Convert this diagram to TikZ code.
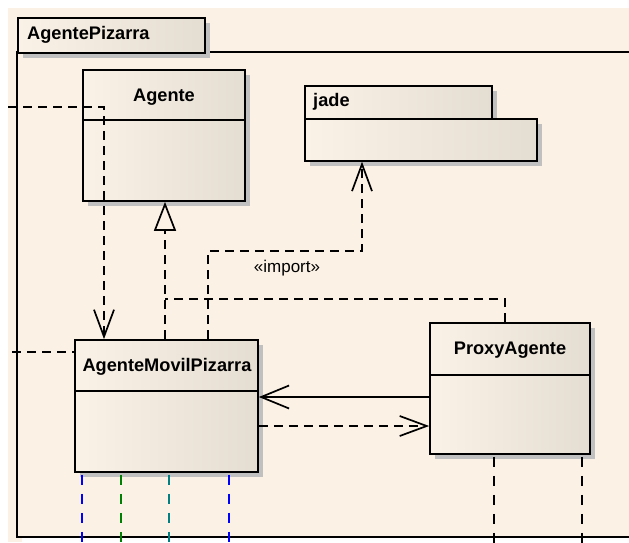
\documentclass[tikz,border=0pt]{standalone}
\usepackage{fontspec}
\setmainfont{Liberation Sans}
\usetikzlibrary{arrows.meta,calc}
\definecolor{paper}{RGB}{251,241,228}
\definecolor{boxleft}{RGB}{251,242,231}
\definecolor{boxright}{RGB}{228,221,209}
\definecolor{shade}{RGB}{192,192,192}
\definecolor{lifeblue}{RGB}{0,0,255}
\definecolor{lifegreen}{RGB}{0,128,0}
\definecolor{lifeteal}{RGB}{0,128,128}
\tikzset{
  umlline/.style={line width=1.7pt, black},
  dsh/.style={umlline, dash pattern=on 9pt off 6pt},
  dep/.style={dsh, -{Straight Barb[length=27pt,width=20pt,line width=1.7pt]}},
  assoc/.style={umlline, -{Straight Barb[length=28pt,width=23pt,line width=1.7pt]}},
  realize/.style={dsh, -{Triangle[open,length=29pt,width=22pt,line width=1.7pt,fill=paper]}},
  lifeline/.style={line width=1.7pt, dash pattern=on 10pt off 9pt},
  classbox/.style={draw=black, line width=1.7pt, rectangle, inner sep=0pt,
    left color=boxleft, right color=boxright,
    preaction={fill=shade, transform canvas={xshift=5pt,yshift=-5pt}}},
  classname/.style={font=\fontsize{18.2}{21}\selectfont\bfseries, inner sep=0pt},
  stereo/.style={font=\fontsize{17}{20}\selectfont, inner sep=0pt},
}
\begin{document}
\begin{tikzpicture}[x=1pt,y=-1pt]
  % canvas
  \useasboundingbox (0,0) rectangle (629,542);
  \fill[white] (0,0) rectangle (629,542);
  \fill[paper] (8,8) rectangle (629,542);

  % package frame: body and tab, each with its shadow
  \fill[shade] (22,57) rectangle (640,542);
  \fill[paper] (17,52) rectangle (635,537);
  \draw[umlline] (629,52) -- (17,52) -- (17,537) -- (629,537);
  \node[classbox, minimum width=187pt, minimum height=35pt, anchor=north west]
    (pkgtab) at (17,17) {};
  \node[classname, anchor=west] (pkgname) at (27,34.5) {AgentePizarra};

  % class Agente
  \node[classbox, minimum width=162pt, minimum height=131pt] (agente) at (164,135.5) {};
  \draw[umlline] (agente.west |- 0,120) -- (agente.east |- 0,120);
  \node[classname] (agentename) at (164,97) {Agente};

  % package jade
  \node[classbox, minimum width=187pt, minimum height=33pt, anchor=north west]
    (jadetab) at (304,85) {};
  \node[classbox, minimum width=232pt, minimum height=42pt, anchor=north west]
    (jadebody) at (304,118) {};
  \node[classname, anchor=west] (jadename) at (313,102) {jade};

  % class AgenteMovilPizarra
  \node[classbox, minimum width=183pt, minimum height=132pt] (amp) at (166.5,406) {};
  \draw[umlline] (amp.west |- 0,391) -- (amp.east |- 0,391);
  \node[classname] (ampname) at (167,367) {AgenteMovilPizarra};

  % class ProxyAgente
  \node[classbox, minimum width=160pt, minimum height=131pt] (proxy) at (510,388.5) {};
  \draw[umlline] (proxy.west |- 0,375) -- (proxy.east |- 0,375);
  \node[classname] (proxyname) at (510,350) {ProxyAgente};

  % free ends and bends
  \coordinate (leftin1) at (8,107);
  \coordinate (leftin2) at (12,352);
  \coordinate (impbend) at (362,251);
  \coordinate (realjoin) at (165,299);

  % dependency entering from the left
  \draw[dep] (leftin1) -| ([xshift=-62.5pt]amp.north);
  % realizations of Agente
  \draw[realize] ([xshift=-1.5pt]amp.north) -- ([xshift=-1.5pt]amp.north |- agente.south);
  \draw[dsh] ([xshift=-5pt]proxy.north) |- (realjoin);
  % import of jade
  \draw[dep] ([xshift=41.5pt]amp.north) |- (impbend) -- (impbend |- jadebody.south);
  \node[stereo] (implabel) at (287,268) {«import»};
  % association and dependency between the two classes
  \draw[assoc] ([yshift=-8.5pt]proxy.west) -- ([yshift=-8.5pt]proxy.west -| amp.east);
  \draw[dep] ([yshift=-20pt]amp.east) -- ([yshift=-20pt]amp.east -| proxy.west);
  % dependency entering from the left edge
  \draw[dsh] (leftin2) -- (leftin2 -| amp.west);

  % lifelines below the classes
  \draw[lifeline, lifeblue]  ([xshift=-84.5pt,yshift=-2pt]amp.south) -- ++(0,70);
  \draw[lifeline, lifegreen] ([xshift=-45.5pt,yshift=-2pt]amp.south) -- ++(0,70);
  \draw[lifeline, lifeteal]  ([xshift=2.5pt,yshift=-2pt]amp.south)   -- ++(0,70);
  \draw[lifeline, lifeblue]  ([xshift=62.5pt,yshift=-2pt]amp.south)  -- ++(0,70);
  \draw[lifeline, black] ([xshift=-16pt,yshift=-2pt]proxy.south) -- ++(0,88);
  \draw[lifeline, black] ([xshift=72pt,yshift=-2pt]proxy.south) -- ++(0,88);
\end{tikzpicture}
\end{document}
